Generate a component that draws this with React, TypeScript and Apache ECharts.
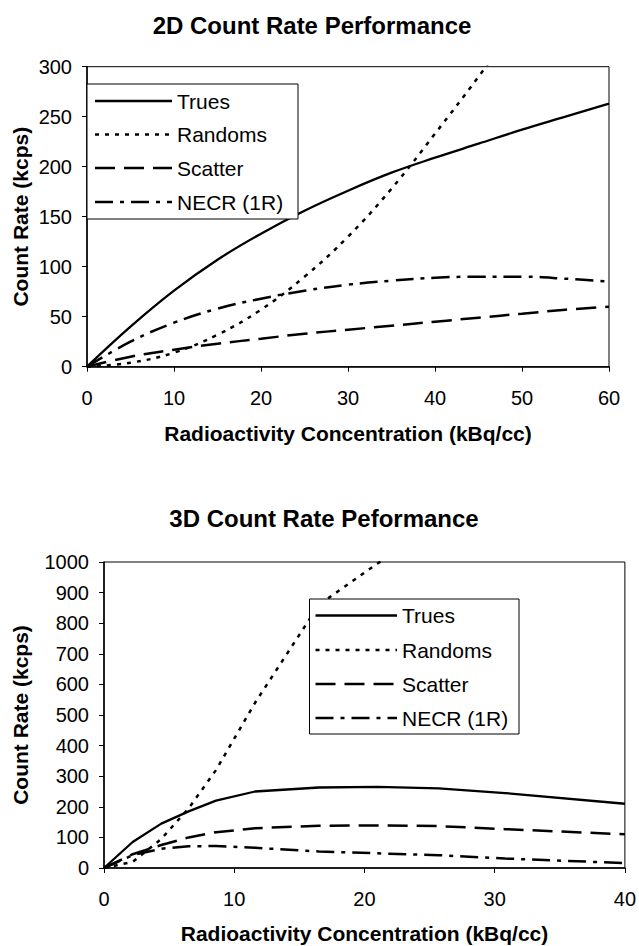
import React, { useEffect, useRef } from "react";
import * as echarts from "echarts";

// ---- 2D chart data ----
const X_2D = [0, 5, 10, 15, 20, 25, 30, 35, 40, 45, 50, 55, 60];
const TRUES_2D = [0, 40, 76, 107, 133, 156, 176, 194, 209, 223, 237, 250, 263];
const SCATTER_2D = [0, 10, 17, 23, 28, 33, 37, 41, 45, 49, 53, 57, 60];
const NECR_2D = [0, 25, 44, 58, 68, 76, 82, 86, 89, 90, 90, 88, 85];
const X_RANDOMS_2D = [0, 5, 10, 15, 20, 25, 30, 35, 40, 45, 50];
const RANDOMS_2D = [0, 4, 14, 32, 57, 90, 130, 178, 233, 290, 350];

// ---- 3D chart data ----
const X_3D = [0, 2.2, 4.4, 6.5, 8.6, 11.6, 16.5, 21, 25.7, 30.8, 40];
const TRUES_3D = [0, 85, 145, 185, 220, 250, 263, 265, 260, 245, 210];
const SCATTER_3D = [0, 45, 75, 100, 117, 130, 138, 139, 137, 127, 110];
const NECR_3D = [0, 42, 63, 71, 72, 66, 54, 48, 42, 31, 16];
const X_RANDOMS_3D = [0, 2.2, 4.4, 6.5, 8.6, 11.6, 16.5, 21, 25.7];
const RANDOMS_3D = [0, 20, 95, 195, 320, 540, 860, 995, 1120];

const SERIES_NAMES = ["Trues", "Randoms", "Scatter", "NECR (1R)"];
const TITLE_2D = "2D Count Rate Performance";
const TITLE_3D = "3D Count Rate Peformance";
const X_TITLE = "Radioactivity Concentration (kBq/cc)";
const Y_TITLE = "Count Rate (kcps)";

const FONT = "'Liberation Sans', Arial, Helvetica, sans-serif";

const zip = (xs: number[], ys: number[]) => xs.map((x, i) => [x, ys[i]]);

const STYLES: Record<string, { width: number; dash: number[] | null }> = {
  Trues: { width: 2.3, dash: null },
  Randoms: { width: 2.5, dash: [4, 6] },
  Scatter: { width: 2.5, dash: [20, 9] },
  "NECR (1R)": { width: 2.5, dash: [18, 7, 4, 7] },
};

function mkSeries(name: string, data: number[][], idx: number, smooth: boolean) {
  const s = STYLES[name];
  return {
    name,
    type: "line",
    xAxisIndex: idx,
    yAxisIndex: idx,
    data,
    smooth: smooth ? 0.4 : false,
    showSymbol: false,
    symbol: "none",
    clip: true,
    lineStyle: { color: "#000", width: s.width, type: s.dash ? s.dash : "solid", cap: "butt" },
    itemStyle: { color: "#000" },
    emphasis: { disabled: true },
  };
}

function axisCommon(margin: number) {
  return {
    axisLine: { show: true, lineStyle: { color: "#000", width: 1.5 } },
    axisTick: { show: true, inside: false, length: 5, lineStyle: { color: "#000", width: 1 } },
    splitLine: { show: false },
    axisLabel: {
      color: "#000",
      fontSize: 20,
      fontFamily: FONT,
      margin,
      formatter: (v: number) => String(v),
    },
  };
}

function txt(text: string, x: number, y: number, size: number, bold: boolean, rot = 0, align = "center") {
  return {
    type: "text",
    x,
    y,
    rotation: rot,
    style: {
      text,
      fill: "#000",
      font: `${bold ? "bold " : ""}${size}px ${FONT}`,
      align,
      verticalAlign: "middle",
      textAlign: align,
      textVerticalAlign: "middle",
    },
  };
}

function legendBox(x: number, y: number, w: number, h: number, rows: number[], lineX1: number, lineX2: number, textX: number) {
  const els: any[] = [
    {
      type: "rect",
      shape: { x, y, width: w, height: h },
      style: { fill: "#fff", stroke: "#000", lineWidth: 1 },
      z: 10,
    },
  ];
  SERIES_NAMES.forEach((name, i) => {
    const s = STYLES[name];
    els.push({
      type: "line",
      shape: { x1: lineX1, y1: rows[i], x2: lineX2, y2: rows[i] },
      style: { stroke: "#000", lineWidth: s.width, lineDash: s.dash || undefined, lineCap: "butt" },
      z: 11,
    });
    els.push({ ...txt(name, textX, rows[i], 21, false, 0, "left"), z: 11 });
  });
  return els;
}

export default function App() {
  const ref = useRef<HTMLDivElement>(null);
  useEffect(() => {
    if (!ref.current) return;
    const chart = echarts.init(ref.current, null, { renderer: "svg" });
    const option: any = {
      animation: false,
      backgroundColor: "#fff",
      grid: [
        { left: 87, top: 66.7, width: 522, height: 300, show: true, borderColor: "#000", borderWidth: 1, containLabel: false },
        { left: 104, top: 562, width: 521, height: 306, show: true, borderColor: "#000", borderWidth: 1, containLabel: false },
      ],
      xAxis: [
        { type: "value", gridIndex: 0, min: 0, max: 60, interval: 10, ...axisCommon(21) },
        { type: "value", gridIndex: 1, min: 0, max: 40, interval: 10, ...axisCommon(21) },
      ],
      yAxis: [
        { type: "value", gridIndex: 0, min: 0, max: 300, interval: 50, ...axisCommon(15) },
        { type: "value", gridIndex: 1, min: 0, max: 1000, interval: 100, ...axisCommon(15) },
      ],
      graphic: [
        txt(TITLE_2D, 312, 25, 24, true),
        txt(X_TITLE, 348, 433, 21, true),
        txt(Y_TITLE, 20, 216.7, 21, true, Math.PI / 2),
        txt(TITLE_3D, 324, 518, 24, true),
        txt(X_TITLE, 364.5, 933, 21, true),
        txt(Y_TITLE, 20, 715, 21, true, Math.PI / 2),
        ...legendBox(87, 84, 211, 135, [101, 134.5, 168, 202], 95, 172, 177),
        ...legendBox(309.5, 599, 209.5, 135, [615.5, 650, 684, 718], 315.5, 397, 402),
      ],
      series: [
        mkSeries("Trues", zip(X_2D, TRUES_2D), 0, true),
        mkSeries("Randoms", zip(X_RANDOMS_2D, RANDOMS_2D), 0, true),
        mkSeries("Scatter", zip(X_2D, SCATTER_2D), 0, true),
        mkSeries("NECR (1R)", zip(X_2D, NECR_2D), 0, true),
        mkSeries("Trues", zip(X_3D, TRUES_3D), 1, false),
        mkSeries("Randoms", zip(X_RANDOMS_3D, RANDOMS_3D), 1, false),
        mkSeries("Scatter", zip(X_3D, SCATTER_3D), 1, false),
        mkSeries("NECR (1R)", zip(X_3D, NECR_3D), 1, false),
      ],
    };
    chart.setOption(option);
    return () => chart.dispose();
  }, []);
  return (
    <div
      ref={ref}
      style={{ position: "absolute", left: 0, top: 0, width: 639, height: 946, background: "#fff" }}
    />
  );
}
